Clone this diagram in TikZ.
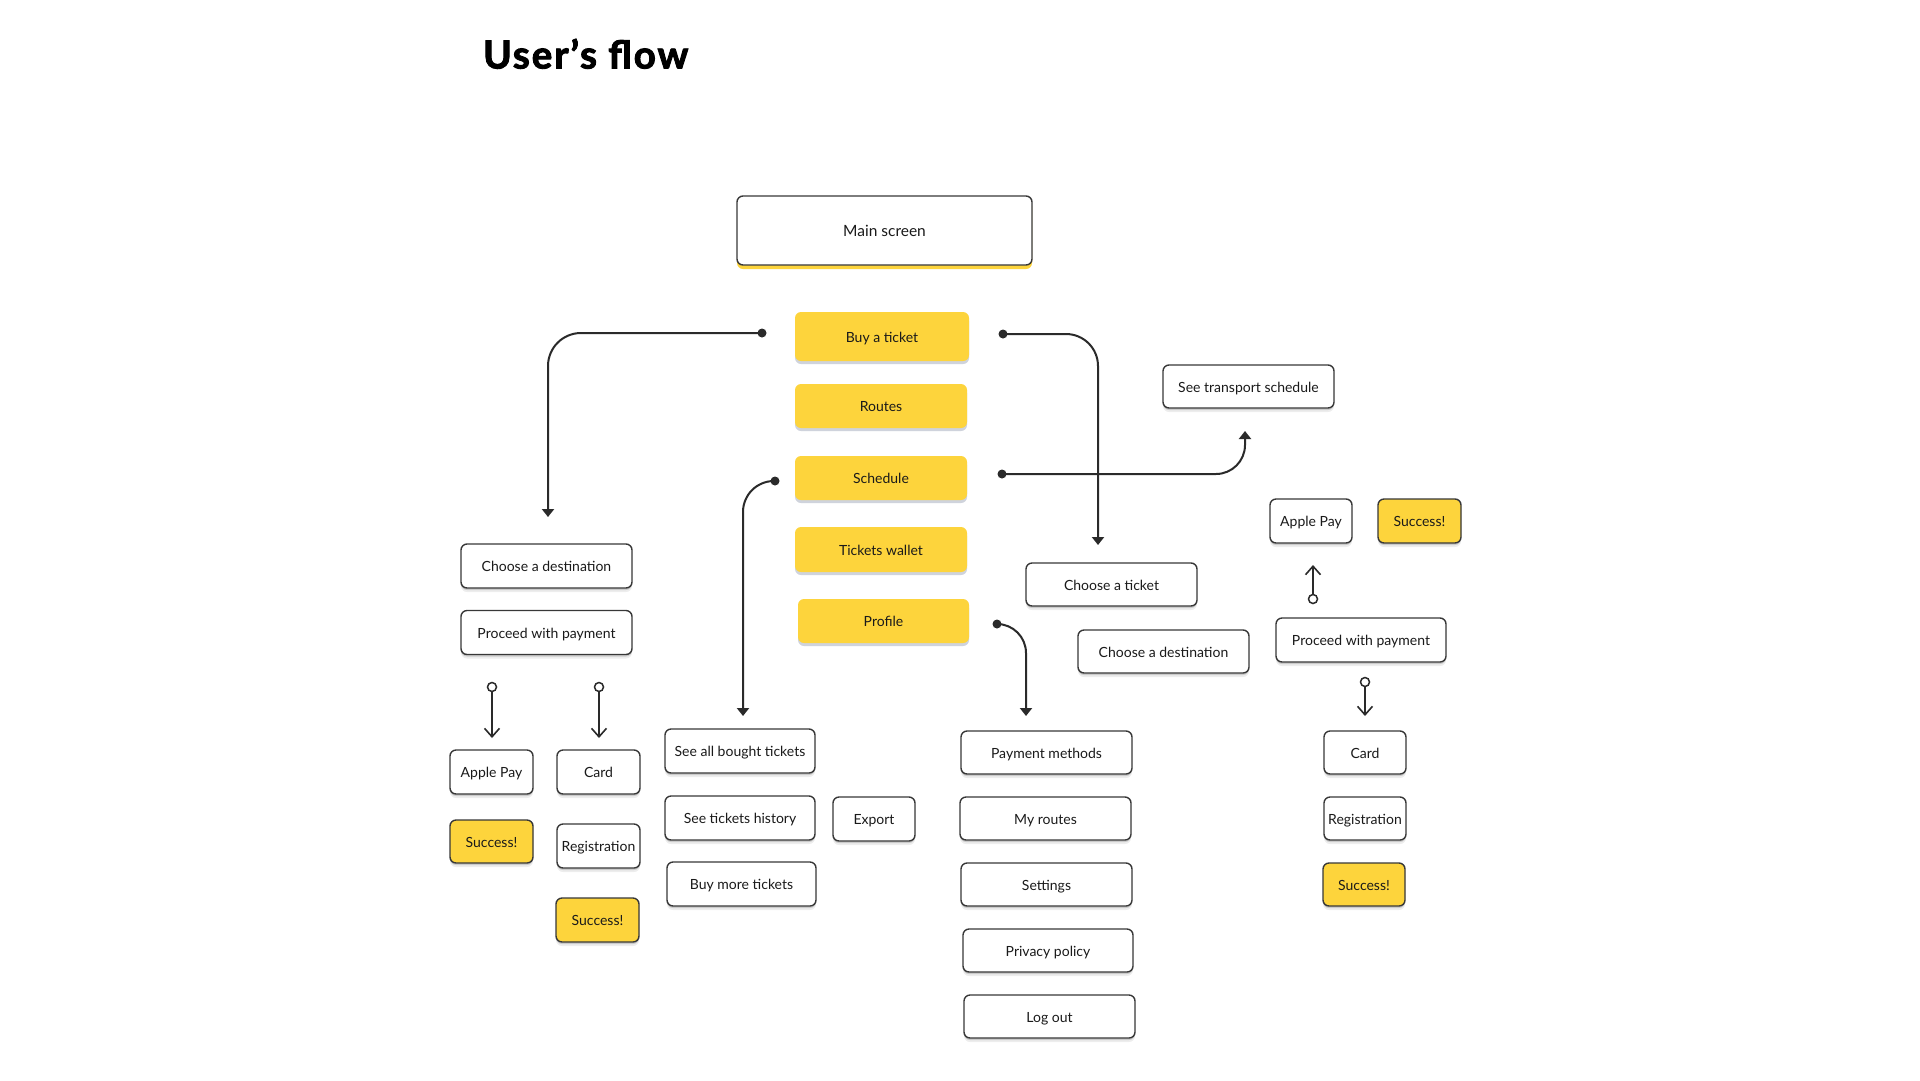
\documentclass[tikz,border=0pt]{standalone}
\usepackage{fontspec}
\setmainfont{Lato}
\newfontfamily\titlefont{Lato}[LetterSpace=5, BoldFeatures={FakeBold=2.4, LetterSpace=5}]
\usetikzlibrary{arrows.meta,shadows,calc}
\definecolor{yel}{HTML}{FDD43C}
\definecolor{lc}{HTML}{2A2A2A}
\definecolor{bordc}{HTML}{383838}
\definecolor{txt}{HTML}{1A1A1A}
\definecolor{msh}{HTML}{C3C8D4}
\newcommand{\boxfont}{\fontsize{14}{16}\selectfont}
\tikzset{
  gsh/.style={general shadow={shadow yshift=-2pt, fill=black, opacity=.14},
              general shadow={shadow yshift=-4pt, fill=black, opacity=.07}},
  basebox/.style={rounded corners=6pt, inner sep=0pt, font=\boxfont, text=txt,
              text height=14.5pt, text depth=3pt},
  wbox/.style 2 args={basebox, draw=bordc, line width=1.4pt, fill=white, gsh,
              minimum width=#1, minimum height=#2},
  sbox/.style 2 args={basebox, draw=bordc, line width=1.4pt, fill=yel, gsh,
              minimum width=#1, minimum height=#2},
  mbox/.style 2 args={basebox, fill=yel,
              general shadow={shadow yshift=-3pt, fill=msh, opacity=.8},
              minimum width=#1, minimum height=#2},
  conn/.style={draw=lc, line width=2pt, -{Triangle[width=12pt,length=8pt]}},
  dotc/.style={fill=lc},
  pinl/.style={draw=lc, line width=1.6pt, shorten <=4.5pt,
              -{Straight Barb[width=15pt,length=8.5pt]}},
  pinc/.style={draw=lc, line width=1.5pt, fill=white},
}
\begin{document}
\begin{tikzpicture}[x=1pt,y=-1pt]
\useasboundingbox (0,0) rectangle (1920,1080);
\fill[white] (0,0) rectangle (1920,1080);

% title
\node[anchor=base west, inner sep=0pt, font=\titlefont\fontsize{38.5}{40}\bfseries\selectfont, text=black]
  (title) at (483,68.5) {User’s flow};

% main screen
\node[basebox, draw=bordc, line width=1.4pt, fill=white,
      general shadow={shadow yshift=-4pt, fill=yel},
      font=\fontsize{15.5}{18}\selectfont, text height=14pt,
      minimum width=295pt, minimum height=69pt] (main) at (884.5,230.5) {Main screen};

% menu
\node[mbox={174pt}{49pt}] (buy) at (882,336.5) {Buy a ticket};
\node[mbox={172pt}{44pt}] (routes) at (881,406) {Routes};
\node[mbox={172pt}{44pt}] (sched) at (881,478) {Schedule};
\node[mbox={172pt}{45pt}] (wallet) at (881,549.5) {Tickets wallet};
\node[mbox={171pt}{44pt}] (profile) at (883.5,621) {Profile};

% left branch (buy a ticket)
\node[wbox={171pt}{44pt}] (cdL) at (546.5,566) {Choose a destination};
\node[wbox={171pt}{44pt}] (pwL) at (546.5,632.5) {Proceed with payment};
\node[wbox={83pt}{44pt}] (apL) at (491.5,772) {Apple Pay};
\node[wbox={83pt}{44pt}] (cardL) at (598.5,772) {Card};
\node[sbox={83pt}{43pt}] (sucL1) at (491.5,841.5) {Success!};
\node[wbox={83pt}{44pt}] (regL) at (598.5,846) {Registration};
\node[sbox={83pt}{44pt}] (sucL2) at (597.5,920) {Success!};

% tickets wallet branch
\node[wbox={150pt}{44pt}] (seeall) at (740,751) {See all bought tickets};
\node[wbox={150pt}{44pt}] (hist) at (740,818) {See tickets history};
\node[wbox={82pt}{44pt}] (export) at (874,819) {Export};
\node[wbox={149pt}{44pt}] (buymore) at (741.5,884) {Buy more tickets};

% profile branch
\node[wbox={171pt}{43pt}] (paym) at (1046.5,752.5) {Payment methods};
\node[wbox={171pt}{43pt}] (myr) at (1045.5,818.5) {My routes};
\node[wbox={171pt}{43pt}] (sett) at (1046.5,884.5) {Settings};
\node[wbox={170pt}{43pt}] (priv) at (1048,950.5) {Privacy policy};
\node[wbox={171pt}{43pt}] (logout) at (1049.5,1016.5) {Log out};

% right branch
\node[wbox={171pt}{43pt}] (ctick) at (1111.5,584.5) {Choose a ticket};
\node[wbox={171pt}{43pt}] (cdR) at (1163.5,651.5) {Choose a destination};
\node[wbox={171pt}{43pt}] (trans) at (1248.5,386.5) {See transport schedule};
\node[wbox={82pt}{44pt}] (apR) at (1311,521) {Apple Pay};
\node[sbox={83pt}{44pt}] (sucR1) at (1419.5,521) {Success!};
\node[wbox={170pt}{44pt}] (pwR) at (1361,640) {Proceed with payment};
\node[wbox={82pt}{43pt}] (cardR) at (1365,752.5) {Card};
\node[wbox={82pt}{43pt}] (regR) at (1365,818.5) {Registration};
\node[sbox={82pt}{43pt}] (sucR2) at (1364,884.5) {Success!};

% connector coordinates
\coordinate (buyLd) at (762,333);
\coordinate (buyLt) at (548,517);
\coordinate (buyRd) at (1003,334);
\coordinate (buyRt) at (1098,545);
\coordinate (schRd) at (1002,474);
\coordinate (schRt) at (1245,431);
\coordinate (schLd) at (775,481);
\coordinate (schLt) at (743,716);
\coordinate (prRd) at (997,624);
\coordinate (prRt) at (1026,716);

\draw[conn, rounded corners=33pt] (buyLd) -- (buyLd -| buyLt) -- (buyLt);
\draw[conn, rounded corners=32pt] (buyRd) -- (buyRd -| buyRt) -- (buyRt);
\draw[conn, rounded corners=29pt] (schRd) -- (schRd -| schRt) -- (schRt);
\draw[conn, rounded corners=31pt] (schLd) -- (schLd -| schLt) -- (schLt);
\draw[conn, rounded corners=29pt] (prRd) -- (prRd -| prRt) -- (prRt);
\foreach \d in {buyLd,buyRd,schRd,schLd,prRd} \fill[dotc] (\d) circle (4.5pt);

% pins
\coordinate (p1) at (492,687); \coordinate (t1) at (492,738);
\coordinate (p2) at (599,687); \coordinate (t2) at (599,738);
\coordinate (p3) at (1365,682); \coordinate (t3) at (1365,716);
\coordinate (p4) at (1313,599); \coordinate (t4) at (1313,565);
\draw[pinl] (p1) -- (t1);
\draw[pinl] (p2) -- (t2);
\draw[pinl] (p3) -- (t3);
\draw[pinl] (p4) -- (t4);
\foreach \p in {p1,p2,p3,p4} \draw[pinc] (\p) circle (4.5pt);
\end{tikzpicture}
\end{document}
